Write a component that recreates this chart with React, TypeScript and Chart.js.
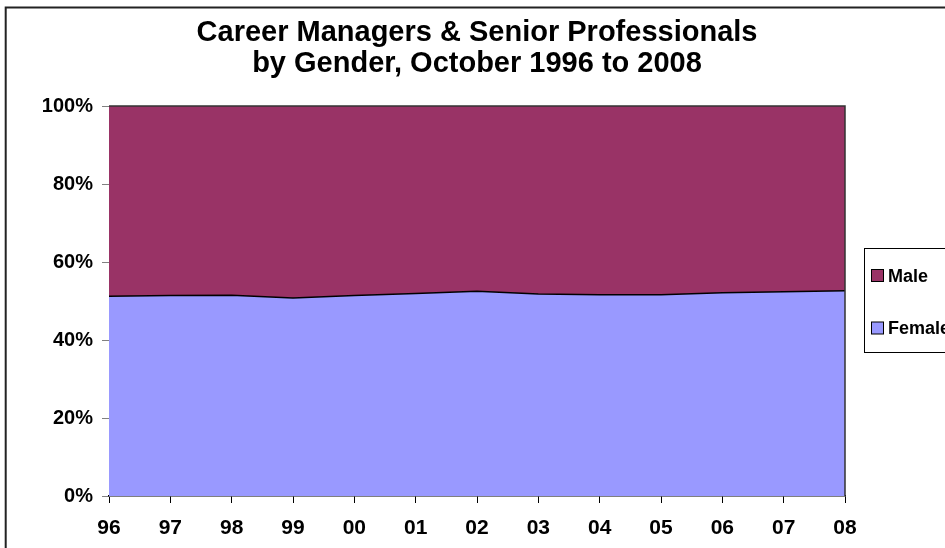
import React, { useEffect, useRef } from "react";
import { Chart, registerables } from "chart.js";

Chart.register(...registerables);

const years = ["96", "97", "98", "99", "00", "01", "02", "03", "04", "05", "06", "07", "08"];
const female = [51.2, 51.4, 51.5, 50.8, 51.4, 51.9, 52.5, 51.8, 51.6, 51.6, 52.1, 52.4, 52.6];
const male = [48.8, 48.6, 48.5, 49.2, 48.6, 48.1, 47.5, 48.2, 48.4, 48.4, 47.9, 47.6, 47.4];
const titleLines = ["Career Managers & Senior Professionals", "by Gender, October 1996 to 2008"];
const legendItems = [
  { label: "Male", color: "#993366" },
  { label: "Female", color: "#9999FF" },
];

const FONT = "'Liberation Sans', Arial, sans-serif";

const decorPlugin = {
  id: "decor",
  beforeDraw(chart: any) {
    const ctx = chart.ctx;
    ctx.save();
    ctx.fillStyle = "#ffffff";
    ctx.fillRect(0, 0, chart.width, chart.height);
    ctx.restore();
  },
  afterDraw(chart: any) {
    const ctx = chart.ctx;
    const a = chart.chartArea;
    ctx.save();
    // outer frame
    ctx.strokeStyle = "#222222";
    ctx.lineWidth = 2;
    ctx.strokeRect(5.7, 7.5, 1200, 1200);
    // plot border top & right
    ctx.strokeStyle = "#333333";
    ctx.lineWidth = 1.5;
    ctx.beginPath();
    ctx.moveTo(a.left, a.top);
    ctx.lineTo(a.right, a.top);
    ctx.lineTo(a.right, a.bottom);
    ctx.stroke();
    // title
    ctx.fillStyle = "#000000";
    ctx.font = `bold 29px ${FONT}`;
    ctx.textAlign = "center";
    ctx.textBaseline = "alphabetic";
    ctx.fillText(titleLines[0], 477, 41);
    ctx.fillText(titleLines[1], 477, 72);
    // legend
    ctx.strokeStyle = "#000000";
    ctx.lineWidth = 1;
    ctx.strokeRect(864.5, 248.5, 200, 104);
    const ys = [275.5, 328];
    legendItems.forEach((it, i) => {
      const cy = ys[i];
      ctx.fillStyle = it.color;
      ctx.fillRect(871.5, cy - 6, 12, 12);
      ctx.strokeStyle = "#000000";
      ctx.strokeRect(871.5, cy - 6, 12, 12);
      ctx.fillStyle = "#000000";
      ctx.font = `bold 18px ${FONT}`;
      ctx.textAlign = "left";
      ctx.textBaseline = "alphabetic";
      ctx.fillText(it.label, 888, cy + 6);
    });
    ctx.restore();
  },
};

export default function App() {
  const ref = useRef<HTMLCanvasElement | null>(null);
  useEffect(() => {
    if (!ref.current) return;
    const chart = new Chart(ref.current, {
      type: "line",
      data: {
        labels: years,
        datasets: [
          {
            label: "Female",
            data: female,
            backgroundColor: "#9999FF",
            borderColor: "#000000",
            borderWidth: 1.5,
            fill: "origin",
            pointRadius: 0,
            tension: 0,
          },
          {
            label: "Male",
            data: male,
            backgroundColor: "#993366",
            borderColor: "#333333",
            borderWidth: 0,
            fill: "-1",
            pointRadius: 0,
            tension: 0,
          },
        ],
      },
      options: {
        responsive: false,
        animation: false,
        devicePixelRatio: 1,
        layout: { padding: { left: 0, top: 106, right: 100, bottom: 0 } },
        plugins: {
          legend: { display: false },
          title: { display: false },
          tooltip: { enabled: false },
        },
        scales: {
          x: {
            type: "category",
            offset: false,
            afterFit(scale: any) {
              scale.height = 52;
            },
            grid: {
              drawOnChartArea: false,
              drawTicks: true,
              tickLength: 7,
              tickColor: "#000000",
            },
            border: { color: "#000000", width: 1.5 },
            ticks: {
              color: "#000000",
              padding: 13,
              maxRotation: 0,
              autoSkip: false,
              font: { family: FONT, size: 21, weight: "bold" },
            },
          },
          y: {
            stacked: true,
            min: 0,
            max: 100,
            afterFit(scale: any) {
              scale.width = 109;
            },
            grid: {
              drawOnChartArea: false,
              drawTicks: true,
              tickLength: 7,
              tickColor: "#808080",
            },
            border: { color: "#808080", width: 1 },
            ticks: {
              stepSize: 20,
              color: "#000000",
              padding: 9,
              font: { family: FONT, size: 20, weight: "bold" },
              callback: (v: any) => v + "%",
            },
          },
        },
      },
      plugins: [decorPlugin],
    });
    return () => chart.destroy();
  }, []);
  return (
    <div style={{ position: "absolute", left: 0, top: 0, width: 945, height: 548 }}>
      <canvas ref={ref} width={945} height={548} style={{ display: "block", width: 945, height: 548 }} />
    </div>
  );
}
